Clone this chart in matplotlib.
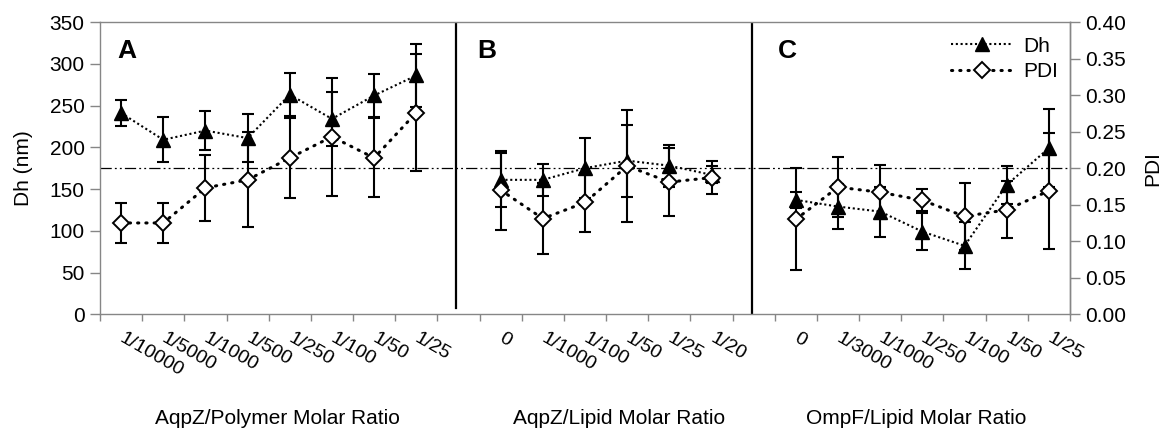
"""Dh and PDI of AqpZ / OmpF vesicles vs protein-to-matrix molar ratio (panels A-C on one axis)."""
import numpy as np
import matplotlib
matplotlib.use("Agg")
import matplotlib.pyplot as plt
from matplotlib.transforms import ScaledTranslation

plt.rcParams["font.family"] = ["Liberation Sans", "DejaVu Sans"]

# --- data (Dh in nm, PDI dimensionless) ---
A_LABELS = ["1/10000", "1/5000", "1/1000", "1/500", "1/250", "1/100", "1/50", "1/25"]
A_DH = [241, 209, 220, 211, 263, 234, 262, 286]
A_DH_ERR = [16, 27, 23, 29, 26, 32, 26, 38]
A_PDI = [0.125, 0.125, 0.173, 0.184, 0.214, 0.243, 0.214, 0.276]
A_PDI_ERR = [0.027, 0.027, 0.045, 0.065, 0.055, 0.081, 0.054, 0.080]

B_LABELS = ["0", "1/1000", "1/100", "1/50", "1/25", "1/20"]
B_DH = [161, 161, 175, 184, 178, 167]
B_DH_ERR = [32, 19, 36, 43, 25, 10]
B_PDI = [0.170, 0.131, 0.153, 0.203, 0.181, 0.187]
B_PDI_ERR = [0.054, 0.049, 0.041, 0.077, 0.047, 0.023]

C_LABELS = ["0", "1/3000", "1/1000", "1/250", "1/100", "1/50", "1/25"]
C_DH = [137, 129, 123, 99, 82, 155, 199]
C_DH_ERR = [10, 27, 30, 22, 28, 23, 47]
C_PDI = [0.130, 0.174, 0.167, 0.156, 0.134, 0.143, 0.169]
C_PDI_ERR = [0.070, 0.041, 0.037, 0.015, 0.046, 0.039, 0.079]

PANEL_NAMES = ["A", "B", "C"]
AXIS_TITLES = ["AqpZ/Polymer Molar Ratio", "AqpZ/Lipid Molar Ratio", "OmpF/Lipid Molar Ratio"]
REF_DH = 175          # dash-dot reference level (= PDI 0.20)

GRAY = "#868686"
FS = 15


def main(out="out.png"):
    fig = plt.figure(figsize=(11.61, 4.29), dpi=100)
    W, H = 1161, 429
    ax = fig.add_axes([100 / W, 1 - 314.3 / H, 970 / W, 292.3 / H])
    ax2 = ax.twinx()

    panels = [(A_LABELS, A_DH, A_DH_ERR, A_PDI, A_PDI_ERR),
              (B_LABELS, B_DH, B_DH_ERR, B_PDI, B_PDI_ERR),
              (C_LABELS, C_DH, C_DH_ERR, C_PDI, C_PDI_ERR)]

    # one empty category slot between panels
    start, gaps, all_x, all_lab = 0, [], [], []
    dh_line = pdi_line = None
    for labels, dh, dh_e, pdi, pdi_e in panels:
        x = np.arange(start, start + len(labels))
        all_x += list(x); all_lab += labels
        ax.errorbar(x, dh, yerr=dh_e, fmt="none", ecolor="black", elinewidth=1.5,
                    capsize=4.5, capthick=1.5, zorder=2)
        dh_line, = ax.plot(x, dh, color="black", lw=1.5, ls=(0, (1, 1.3)), marker="^",
                           ms=9.5, mfc="black", mec="black", zorder=3)
        ax2.errorbar(x, pdi, yerr=pdi_e, fmt="none", ecolor="black", elinewidth=1.5,
                     capsize=4.5, capthick=1.5, zorder=2)
        pdi_line, = ax2.plot(x, pdi, color="black", lw=2.2, ls=(0, (0.4, 2.3)),
                             dash_capstyle="round", marker="D", ms=8, mfc="white",
                             mec="black", mew=1.4, zorder=3)
        start += len(labels)
        gaps.append(start)
        start += 1
    n_slots = start - 1

    ax.set_xlim(-0.5, n_slots - 0.5)
    ax.set_ylim(0, 350)
    ax2.set_ylim(0, 0.40)
    ax.set_yticks(np.arange(0, 351, 50))
    ax2.set_yticks(np.arange(0, 0.401, 0.05))
    ax2.set_yticklabels([f"{v:.2f}" for v in np.arange(0, 0.401, 0.05)])

    # reference line and panel dividers
    ax.axhline(REF_DH, color="black", lw=0.9, dashes=(9, 2.5, 1.5, 2.5, 1.5, 2.5), zorder=1)
    ax.axvline(gaps[0] - 0.05, ymin=0.02, ymax=1.0, color="black", lw=1.6, zorder=1)
    ax.axvline(gaps[1] - 0.04, ymin=0.0, ymax=1.0, color="black", lw=1.6, zorder=1)

    # category ticks at slot boundaries, labels drawn as rotated text
    ax.set_xticks(np.arange(-0.5, n_slots, 1))
    ax.tick_params(axis="x", length=5, width=1, color=GRAY, labelbottom=False)
    trans = ax.get_xaxis_transform() + ScaledTranslation(4 / 100, -15 / 100, fig.dpi_scale_trans)
    for xi, lab in zip(all_x, all_lab):
        ax.text(xi, 0, lab, transform=trans, rotation=-30, rotation_mode="anchor",
                ha="left", va="top", fontsize=14)

    ax.tick_params(axis="y", length=7, width=1, color=GRAY, labelsize=FS, pad=4)
    ax2.tick_params(axis="y", length=7, width=1, color=GRAY, labelsize=FS, pad=4)
    for s in ax.spines.values():
        s.set_color(GRAY); s.set_linewidth(1.0)
    for k in ["left", "top", "bottom"]:
        ax2.spines[k].set_visible(False)
    ax2.spines["right"].set_color(GRAY); ax2.spines["right"].set_linewidth(1.0)

    ax.set_ylabel("Dh (nm)", fontsize=FS)
    ax.yaxis.set_label_coords(-0.069, 0.5)
    ax2.set_ylabel("PDI", fontsize=FS)
    ax2.yaxis.set_label_coords(1.075, 0.5)

    # panel letters
    for name, xf in zip(PANEL_NAMES, [0.0175, 0.389, 0.699]):
        ax.text(xf, 0.877, name, transform=ax.transAxes, fontsize=19, fontweight="bold",
                ha="left", va="baseline")

    # axis titles under each panel
    for title, xc in zip(AXIS_TITLES, [277, 619, 916]):
        fig.text(xc / W, 1 - 424 / H, title, ha="center", va="baseline", fontsize=FS)

    ax2.legend([dh_line, pdi_line], ["Dh", "PDI"], loc="upper right", frameon=False,
               bbox_to_anchor=(0.988, 0.95), borderaxespad=0, borderpad=0,
               handlelength=3.0, handletextpad=0.5, labelspacing=0.3, numpoints=1,
               fontsize=FS)

    fig.savefig(out, dpi=100)


if __name__ == "__main__":
    main()
